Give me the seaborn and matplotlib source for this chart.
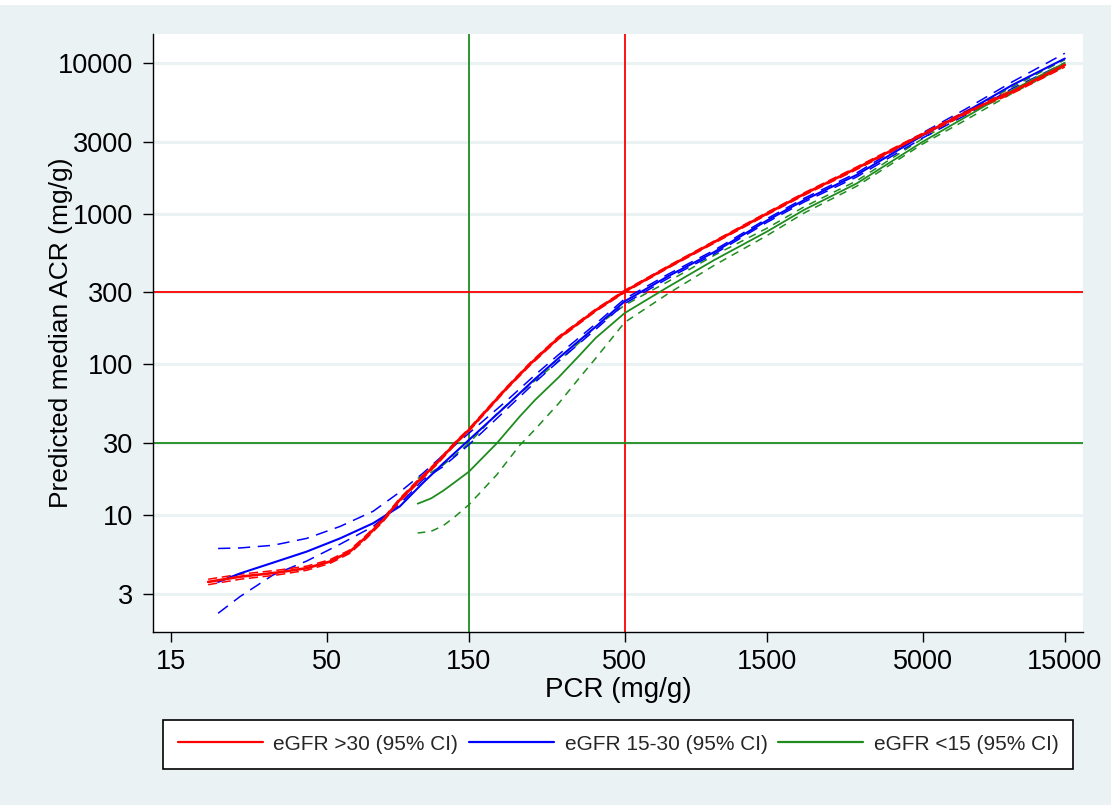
import numpy as np
import pandas as pd
import matplotlib
matplotlib.use("Agg")
import matplotlib.pyplot as plt
import seaborn as sns

# ---------------- data ----------------
red_pcr = [20.0, 25.6, 34, 42.8, 51.2, 59.8, 68, 77.3, 87.9, 100, 117, 136.5, 150, 200, 240,
           300, 400, 500, 700, 1000, 1500, 2000, 3000, 5000, 7000, 10000, 15000]
red_acr = [3.6, 3.9, 4.15, 4.44, 4.91, 5.72, 7.19, 9.27, 12.6, 16.3, 22.1, 30.7, 36.7, 69, 100,
           150, 229, 305, 443, 649, 1000, 1350, 2000, 3350, 4700, 6450, 9700]
red_lo = [3.45, 3.75, 4.0, 4.3, 4.77, 5.57, 7.0, 9.05, 12.3, 15.9, 21.6, 30.1, 36.0, 67.7, 98,
          147, 225, 300, 436, 638, 982, 1325, 1960, 3280, 4590, 6280, 9400]
red_hi = [3.75, 4.05, 4.3, 4.58, 5.05, 5.87, 7.38, 9.5, 12.9, 16.7, 22.6, 31.3, 37.4, 70.3, 102,
          153, 233, 310, 450, 660, 1018, 1375, 2040, 3420, 4810, 6620, 10000]

blue_pcr = [21.6, 25.6, 33, 42.8, 55.4, 71.6, 87.9, 105, 123, 150, 200, 250, 300, 400, 500,
            700, 1000, 1500, 2000, 3000, 5000, 7000, 10000, 15000]
blue_acr = [3.6, 4.1, 4.83, 5.72, 7.0, 8.83, 11.4, 16.3, 22, 31.5, 53, 80, 110, 178, 262,
            385, 557, 900, 1230, 1806, 3310, 4750, 7140, 10700]
blue_lo = [2.23, 2.88, 4.0, 4.95, 6.4, 8.4, 11.8, 17.1, 21, 29.3, 50, 76, 105, 171, 253,
           373, 541, 875, 1195, 1750, 3180, 4530, 6780, 10000]
blue_hi = [6.0, 6.05, 6.3, 7.0, 8.4, 10.6, 14.2, 18.9, 25, 34.9, 57, 85, 116, 186, 272,
           397, 573, 925, 1265, 1862, 3440, 4970, 7500, 11600]

green_pcr = [101, 112, 123, 135, 150, 186, 222, 250, 300, 350, 400, 500, 700, 1000, 1500,
             2000, 3000, 5000, 7000, 10000, 15000]
green_acr = [11.9, 12.9, 14.5, 16.6, 19.4, 29.9, 45, 58, 82, 113, 150, 219, 327, 493, 760,
             1060, 1585, 3000, 4400, 6600, 10000]
green_lo = [7.6, 7.8, 8.5, 9.8, 11.7, 18.5, 29, 37, 55, 80, 110, 190, 295, 455, 715,
            1010, 1520, 2900, 4200, 6300, 9500]
green_hi = [17.5, 19.2, 21.5, 25, 30, 47, 64, 78, 105, 138, 178, 247, 355, 530, 800,
            1110, 1650, 3150, 4650, 6950, 10500]

x_ticks = [15, 50, 150, 500, 1500, 5000, 15000]
y_ticks = [3, 10, 30, 100, 300, 1000, 3000, 10000]
legend_labels = ["eGFR >30 (95% CI)", "eGFR 15-30 (95% CI)", "eGFR <15 (95% CI)"]
ref_pcr = [150, 500]
ref_acr = [30, 300]

# ---------------- styling ----------------
BG = "#EAF2F3"
RED = "#FF0000"
BLUE = "#0000FF"
GREEN = "#1E8C1E"

sns.set_theme(style="white")
plt.rcParams["font.family"] = ["Liberation Sans", "DejaVu Sans"]

fig = plt.figure(figsize=(11.11, 8.05), dpi=100, facecolor=BG)
ax = fig.add_axes([153 / 1111, 1 - 632 / 805, (1083 - 153) / 1111, (632 - 34) / 805])
ax.set_facecolor("white")

ax.set_xscale("log")
ax.set_yscale("log")
ax.set_xlim(13.06, 17260)
ax.set_ylim(1.675, 15570)

# horizontal grid lines
for yt in y_ticks:
    ax.axhline(yt, color=BG, lw=2.2, zorder=0)

# reference lines
ax.axvline(ref_pcr[0], color=GREEN, lw=1.3, zorder=1)
ax.axvline(ref_pcr[1], color=RED, lw=1.3, zorder=1)
ax.axhline(ref_acr[1], color=RED, lw=1.3, zorder=1)
ax.axhline(ref_acr[0], color=GREEN, lw=1.3, zorder=1)


def draw(pcr, main, lo, hi, color, dash, lw_main):
    df = pd.DataFrame({"pcr": pcr, "main": main, "lo": lo, "hi": hi})
    sns.lineplot(data=df, x="pcr", y="lo", color=color, lw=1.1, ax=ax,
                 estimator=None, linestyle=(0, dash), zorder=3)
    sns.lineplot(data=df, x="pcr", y="hi", color=color, lw=1.1, ax=ax,
                 estimator=None, linestyle=(0, dash), zorder=3)
    sns.lineplot(data=df, x="pcr", y="main", color=color, lw=lw_main, ax=ax,
                 estimator=None, zorder=4)


draw(green_pcr, green_acr, green_lo, green_hi, GREEN, (5, 4), 1.3)
draw(blue_pcr, blue_acr, blue_lo, blue_hi, BLUE, (8, 5), 1.5)
draw(red_pcr, red_acr, red_lo, red_hi, RED, (6, 3), 1.9)

# axes styling
for s in ["top", "right"]:
    ax.spines[s].set_visible(False)
for s in ["left", "bottom"]:
    ax.spines[s].set_color("black")
    ax.spines[s].set_linewidth(1.0)

ax.set_xticks(x_ticks)
ax.set_xticklabels([str(v) for v in x_ticks])
ax.set_yticks(y_ticks)
ax.set_yticklabels([str(v) for v in y_ticks])
ax.minorticks_off()
ax.tick_params(axis="both", which="major", direction="out", length=7.2, width=1,
               color="black", labelsize=19.5, labelcolor="black", bottom=True, left=True)
ax.tick_params(axis="y", pad=7)
ax.tick_params(axis="x", pad=5)

ax.set_xlabel("PCR (mg/g)", fontsize=20, color="black", va="top")
ax.xaxis.set_label_coords(0.5, (632 - 677) / 598)
ax.set_ylabel("Predicted median ACR (mg/g)", fontsize=19, color="black")
ax.yaxis.set_label_coords((73 - 153) / 930, 0.5)

# legend
handles = [plt.Line2D([], [], color=c, lw=1.6) for c in (RED, BLUE, GREEN)]
leg = fig.legend(handles, legend_labels, loc="center",
                 bbox_to_anchor=(618 / 1111, 1 - 744 / 805),
                 ncol=3, fontsize=15, frameon=True, fancybox=False,
                 edgecolor="black", facecolor="white", framealpha=1, borderpad=0.72,
                 handlelength=4.1, handletextpad=0.5, columnspacing=0.5, borderaxespad=0)
leg.get_frame().set_linewidth(1.2)

# white strip at very top
fig.patches.append(plt.Rectangle((0, 1 - 5 / 805), 1, 5 / 805, transform=fig.transFigure,
                                 facecolor="white", edgecolor="none"))

fig.savefig("out.png", dpi=100, facecolor=BG)
